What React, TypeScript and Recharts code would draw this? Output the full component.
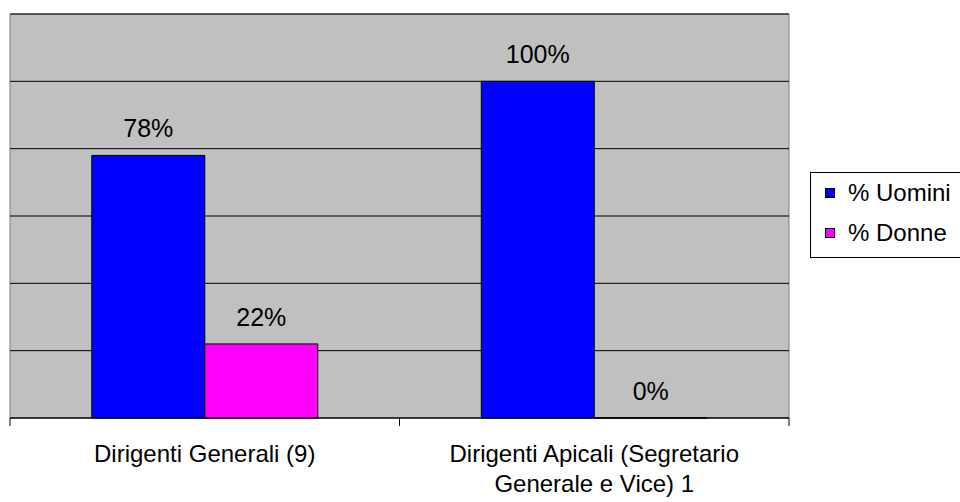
import { BarChart, Bar, XAxis, YAxis, CartesianGrid, Legend } from 'recharts';

const CATEGORIES = ['Dirigenti Generali (9)', 'Dirigenti Apicali (Segretario Generale e Vice) 1'];
const UOMINI = [78, 100];
const DONNE = [22, 0];
const Y_TICKS = [0, 20, 40, 60, 80, 100];

const SERIES = [
  { key: 'uomini', name: '% Uomini', color: '#0000ff' },
  { key: 'donne', name: '% Donne', color: '#ff00ff' },
];

const data = CATEGORIES.map((c, i) => ({ name: c, uomini: UOMINI[i], donne: DONNE[i] }));

const FONT = '"Liberation Sans", Arial, sans-serif';
const FONT_SIZE = 24;

// greedy word wrap using canvas text measurement
function wrapText(text: string, maxWidth: number): string[] {
  const ctx = document.createElement('canvas').getContext('2d');
  if (!ctx) return [text];
  ctx.font = `${FONT_SIZE}px ${FONT}`;
  const words = text.split(' ');
  const lines: string[] = [];
  let cur = '';
  words.forEach((w) => {
    const test = cur ? cur + ' ' + w : w;
    if (cur && ctx.measureText(test).width > maxWidth) {
      lines.push(cur);
      cur = w;
    } else {
      cur = test;
    }
  });
  if (cur) lines.push(cur);
  return lines;
}

function CategoryTick(props: any) {
  const { x, y, payload } = props;
  const half = payload.offset || 0;
  const lines = wrapText(String(payload.value), 330);
  return (
    <g>
      <line x1={x - half} x2={x - half} y1={y} y2={y + 8} stroke="#000" />
      <line x1={x + half} x2={x + half} y1={y} y2={y + 8} stroke="#000" />
      <text x={x} y={y + 44} textAnchor="middle" fill="#000" style={{ fontSize: FONT_SIZE, fontFamily: FONT }}>
        {lines.map((l, i) => (
          <tspan key={i} x={x} dy={i === 0 ? 0 : 30}>
            {l}
          </tspan>
        ))}
      </text>
    </g>
  );
}

function ValueLabel(props: any) {
  const { x, y, width, value } = props;
  if (value == null) return null;
  return (
    <text x={x + width / 2} y={y - 18} textAnchor="middle" fill="#000" style={{ fontSize: 25, fontFamily: FONT }}>
      {`${value}%`}
    </text>
  );
}

function LegendBox() {
  return (
    <div style={{ border: '1px solid #000', background: '#fff', width: 160, height: 86, boxSizing: 'border-box' }}>
      {SERIES.map((s) => (
        <div key={s.key} style={{ display: 'flex', alignItems: 'center', height: 40, paddingLeft: 14, fontSize: 24, fontFamily: FONT, color: '#000' }}>
          <span style={{ width: 8, height: 8, background: s.color, border: '1px solid #000', marginRight: 13, display: 'inline-block' }} />
          {s.name}
        </div>
      ))}
    </div>
  );
}

export default function App() {
  return (
    <div style={{ position: 'absolute', left: 0, top: 0, width: 960, height: 502, background: '#fff' }}>
      <BarChart
        width={960}
        height={502}
        data={data}
        margin={{ top: 14, right: 171, left: 10, bottom: 0 }}
        barCategoryGap="21%"
        barGap={0}
      >
        <CartesianGrid
          fill="#c0c0c0"
          stroke="#808080"
          horizontalCoordinatesGenerator={({ offset }: any) => [offset.top]}
          verticalCoordinatesGenerator={({ offset }: any) => [offset.left, offset.left + offset.width]}
        />
        <CartesianGrid stroke="#000" vertical={false} />
        <XAxis
          dataKey="name"
          height={84}
          axisLine={{ stroke: '#000' }}
          tickLine={false}
          tickSize={0}
          tickMargin={0}
          interval={0}
          tick={<CategoryTick />}
        />
        <YAxis hide domain={[0, 120]} ticks={Y_TICKS} />
        <Legend
          layout="vertical"
          align="center"
          verticalAlign="middle"
          wrapperStyle={{ left: 810, top: 172, width: 160, height: 86 }}
          content={() => <LegendBox />}
        />
        {SERIES.map((s) => (
          <Bar
            key={s.key}
            dataKey={s.key}
            name={s.name}
            fill={s.color}
            stroke="#000"
            strokeWidth={1}
            minPointSize={(v: any) => (v === 0 ? 0.01 : 0)}
            isAnimationActive={false}
            label={<ValueLabel />}
          />
        ))}
      </BarChart>
    </div>
  );
}
